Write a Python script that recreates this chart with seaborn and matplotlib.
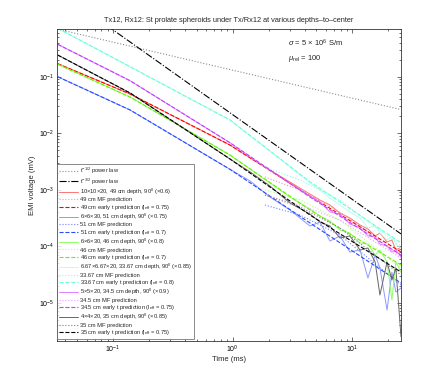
import matplotlib
matplotlib.use("Agg")
import matplotlib.pyplot as plt
import seaborn as sns
import numpy as np

sns.set_theme(style="ticks")
plt.rcParams['font.family'] = ['Liberation Sans', 'DejaVu Sans']
plt.rcParams['mathtext.fontset'] = 'custom'
plt.rcParams['mathtext.rm'] = 'Liberation Sans'
plt.rcParams['mathtext.it'] = 'Liberation Sans:italic'
plt.rcParams['mathtext.bf'] = 'Liberation Sans:bold'

# ---------------- data ----------------
# power laws
t_half = [0.034, 25.5]
v_half = [0.70, 0.0262]
t_threehalf = [0.09, 25.5]
v_threehalf = [0.79, 1.65e-4]

# early-time predictions (dashed)
t_early = [0.0345, 0.139, 0.949, 4.42, 25.5]
red_early = [0.170, 0.0494, 0.00618, 7.74e-4, 7.91e-5]
blue_early = [0.100, 0.02575, 0.002296, 2.58e-4, 2.23e-5]
green_early = [0.1658, 0.0437, 0.00411, 4.37e-4, 4.65e-5]
cyan_early = [0.72, 0.150, 0.01713, 0.001386, 1.14e-4]
mag_early = [0.3745, 0.0849, 0.00679, 7.43e-4, 6.99e-5]
black_early = [0.242, 0.0515, 0.00350, 3.57e-4, 3.49e-5]

# MF predictions (dotted)
t_mf = [1.86, 3.65, 7.87, 25.5]
red_mf = [0.001679, 9.89e-4, 4.03e-4, 6.71e-5]
blue_mf = [5.36e-4, 3.57e-4, 1.58e-4, 2.06e-5]
green_mf = [9.89e-4, 6.58e-4, 2.91e-4, 4.11e-5]
cyan_mf = [0.002523, 0.001486, 6.58e-4, 1.0e-4]
mag_mf = [8.05e-4, 5.36e-4, 2.91e-4, 6.18e-5]
black_mf = [8.05e-4, 4.94e-4, 2.10e-4, 3.09e-5]

# measured (solid)
t_meas = [0.0345, 0.139, 0.949, 1.40, 2.05, 3.01, 4.42, 5.36, 6.50, 7.87,
          9.54, 11.6, 13.5, 15.5, 17.0, 19.5, 21.4, 23.1, 25.5]
red_meas = [0.170, 0.0494, 0.00618, 3.64e-3, 2.23e-3, 1.368e-3, 8.39e-4, 6.57e-4,
            5.36e-4, 3.87e-4, 3.16e-4, 2.37e-4, 2.02e-4, 1.52e-4, 1.71e-4,
            1.187e-4, 1.29e-4, 8.56e-5, 9.68e-5]
blue_meas = [0.100, 0.02575, 0.002296, 1.426e-3, 7.43e-4, 4.37e-4, 2.28e-4,
             2.68e-4, 1.236e-4, 1.52e-4, 7.90e-5, 8.56e-5, 2.74e-5, 6.99e-5,
             4.11e-5, 7.43e-6, 3.49e-5, 1.547e-5, 1.82e-5]
green_meas = [0.1658, 0.0437, 0.00411, 2.32e-3, 1.314e-3, 7.43e-4, 4.55e-4,
              3.42e-4, 2.79e-4, 1.94e-4, 1.71e-4, 1.139e-4, 1.09e-4, 6.99e-5,
              8.56e-5, 5.25e-5, 1.116e-5, 5.25e-5, 3.49e-5]
cyan_meas = [0.72, 0.150, 0.01713, 8.92e-3, 4.84e-3, 2.52e-3, 1.314e-3, 9.88e-4,
             7.13e-4, 5.36e-4, 4.03e-4, 3.16e-4, 2.10e-4, 2.28e-4, 1.71e-4,
             1.29e-4, 1.52e-4, 1.09e-4, 9.29e-5]
mag_meas = [0.3745, 0.0849, 0.00679, 3.79e-3, 2.23e-3, 1.314e-3, 7.74e-4,
            6.06e-4, 4.03e-4, 3.71e-4, 2.47e-4, 2.10e-4, 1.52e-4, 1.455e-4,
            1.09e-4, 1.008e-4, 7.90e-5, 8.56e-5, 6.44e-5]
black_meas = [0.242, 0.0515, 0.00350, 2.06e-3, 1.163e-3, 5.81e-4, 3.71e-4,
              2.68e-4, 2.28e-4, 1.397e-4, 1.52e-4, 8.56e-5, 9.29e-5, 5.25e-5,
              1.368e-5, 5.25e-5, 2.52e-5, 4.11e-5, 2.5e-6]

groups = [
    ("10×10×20, 49 cm depth, 90$^0$ (×0.6)", "49 cm MF prediction",
     "49 cm early t prediction (l$_{\\rm eff}$ = 0.75)",
     red_meas, red_mf, red_early, (1.0, 0.45, 0.45), (1.0, 0.55, 0.7), (1.0, 0.0, 0.0)),
    ("6×6×30, 51 cm depth, 90$^0$ (×0.75)", "51 cm MF prediction",
     "51 cm early t prediction (l$_{\\rm eff}$ = 0.7)",
     blue_meas, blue_mf, blue_early, (0.55, 0.6, 1.0), (0.45, 0.5, 1.0), (0.15, 0.3, 1.0)),
    ("6×6×30, 46 cm depth, 90$^0$ (×0.8)", "46 cm MF prediction",
     "46 cm early t prediction (l$_{\\rm eff}$ = 0.7)",
     green_meas, green_mf, green_early, (0.55, 1.0, 0.4), (0.7, 1.0, 0.5), (0.4, 0.95, 0.0)),
    ("6.67×6.67×20, 33.67 cm depth, 90$^0$ (×0.85)", "33.67 cm MF prediction",
     "33.67 cm early t prediction (l$_{\\rm eff}$ = 0.8)",
     cyan_meas, cyan_mf, cyan_early, (0.7, 1.0, 0.95), (0.55, 1.0, 0.9), (0.4, 1.0, 0.85)),
    ("5×5×20, 34.5 cm depth, 90$^0$ (×0.9)", "34.5 cm MF prediction",
     "34.5 cm early t prediction (l$_{\\rm eff}$ = 0.75)",
     mag_meas, mag_mf, mag_early, (0.88, 0.5, 1.0), (0.92, 0.6, 1.0), (0.75, 0.25, 1.0)),
    ("4×4×20, 35 cm depth, 90$^0$ (×0.85)", "35 cm MF prediction",
     "35 cm early t prediction (l$_{\\rm eff}$ = 0.75)",
     black_meas, black_mf, black_early, (0.4, 0.4, 0.4), (0.5, 0.5, 0.5), (0.0, 0.0, 0.0)),
]

# ---------------- figure ----------------
fig = plt.figure(figsize=(4.43, 3.84), dpi=100)
ax = fig.add_axes([57 / 443, (384 - 341) / 384, 344 / 443, 312 / 384])
ax.set_xscale('log')
ax.set_yscale('log')

lw = 0.8
sns.lineplot(x=t_half, y=v_half, ax=ax, color=(0.55, 0.55, 0.55), linestyle=':',
             lw=lw, label="t$^{-1/2}$ power law", estimator=None, sort=False)
sns.lineplot(x=t_threehalf, y=v_threehalf, ax=ax, color='black', linestyle='-.',
             lw=lw, label="t$^{-3/2}$ power law", estimator=None, sort=False)

for (lab_m, lab_mf, lab_e, meas, mf, early, c_m, c_mf, c_e) in groups:
    sns.lineplot(x=t_meas, y=meas, ax=ax, color=c_m, linestyle='-', lw=0.7,
                 label=lab_m, estimator=None, sort=False)
    sns.lineplot(x=t_mf, y=mf, ax=ax, color=c_mf, linestyle=':', lw=lw,
                 label=lab_mf, estimator=None, sort=False)
    sns.lineplot(x=t_early, y=early, ax=ax, color=c_e, linestyle='--', lw=lw,
                 label=lab_e, estimator=None, sort=False)

ax.set_xlim(0.034, 25.5)
ax.set_ylim(2.1e-6, 0.70)

for s in ax.spines.values():
    s.set_linewidth(0.6)
    s.set_color('#333333')
ax.tick_params(which='both', direction='in', top=True, right=True,
               labelsize=5, width=0.5, colors='#333333', labelcolor='black', pad=2)
ax.tick_params(which='major', length=3)
ax.tick_params(which='minor', length=1.5)

ax.set_xlabel("Time (ms)", fontsize=5.5, labelpad=1)
ax.set_ylabel("EMI voltage (mV)", fontsize=5.5, labelpad=2)
ax.set_title("Tx12, Rx12: St prolate spheroids under Tx/Rx12 at various depths\u2013to\u2013center",
             fontsize=5.3, pad=5)

ax.text(0.671, 0.955, r"$\sigma$ = 5 × 10$^6$ S/m", transform=ax.transAxes,
        fontsize=5.5, va='center', ha='left')
ax.text(0.671, 0.905, r"$\mu_{\rm rel}$ = 100", transform=ax.transAxes,
        fontsize=5.5, va='center', ha='left')

leg = ax.legend(loc='lower left', bbox_to_anchor=(0.0, 0.006), borderaxespad=0.0,
                fontsize=4.15, handlelength=3.3, handletextpad=0.3, labelspacing=0.04,
                frameon=True, fancybox=False, borderpad=0.4)
leg.get_frame().set_edgecolor('#555555')
leg.get_frame().set_linewidth(0.6)

fig.savefig("out.png", dpi=100, facecolor='white')
